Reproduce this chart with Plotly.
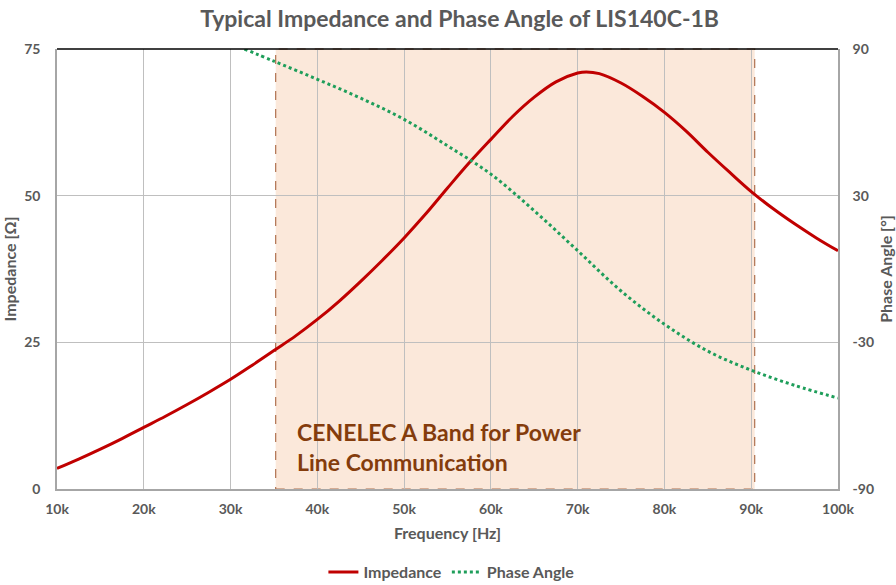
import plotly.graph_objects as go

# ---- data ----
imp_freq_khz = [10, 12.5, 15, 17.5, 20, 22.5, 25, 27.5, 30, 32.5, 35, 37.5, 40, 42.5, 45, 47.5, 50,
                52.5, 55, 57.5, 60, 62.5, 65, 67.5, 70, 71, 72.5, 75, 77.5, 80, 82.5, 85, 87.5, 90,
                92.5, 95, 97.5, 100]
impedance = [3.5, 5.1, 6.8, 8.6, 10.5, 12.4, 14.4, 16.5, 18.7, 21.1, 23.6, 26.1, 28.9, 32.0, 35.4, 39.0, 42.8,
             46.9, 51.3, 55.6, 59.6, 63.5, 66.8, 69.4, 70.9, 71.1, 70.8, 69.2, 66.9, 64.2, 61.0, 57.4, 54.0, 50.7,
             47.8, 45.2, 42.8, 40.6]

ph_freq_khz = [31.6, 35, 40, 45, 50, 55, 60, 65, 70, 75, 80, 85, 90, 95, 100]
phase = [90, 85.0, 77.6, 69.9, 61.2, 50.4, 38.8, 23.8, 7.5, -9.0, -22.6, -33.6, -41.4, -47.6, -52.8]

band_khz = [35.2, 90.4]
x_ticks_khz = [10, 20, 30, 40, 50, 60, 70, 80, 90, 100]
x_tick_text = [f"{v}k" for v in x_ticks_khz]
imp_ticks = [0, 25, 50, 75]
phase_ticks = [-90, -30, 30, 90]
phase_tick_text = ["-90", "-30", "30", "90"]

title_text = "Typical Impedance and Phase Angle of LIS140C-1B"
band_label = "CENELEC A Band for Power<br>Line Communication"

FONT = "Lato"
GREY = "#595959"

fig = go.Figure()
fig.add_trace(go.Scatter(
    x=[f * 1000 for f in imp_freq_khz], y=impedance, name="Impedance",
    mode="lines", line=dict(color="#C00000", width=3, shape="spline", smoothing=1.0),
))
fig.add_trace(go.Scatter(
    x=[f * 1000 for f in ph_freq_khz], y=phase, name="Phase Angle", yaxis="y2",
    mode="lines", line=dict(color="#1E9E5A", width=3, dash="dot", shape="spline", smoothing=1.0),
))

# band rectangle
fig.add_shape(type="rect", xref="x", yref="y domain",
              x0=band_khz[0] * 1000, x1=band_khz[1] * 1000, y0=0, y1=1,
              fillcolor="#FBE8DA", line=dict(color="#B0714F", width=1.2, dash="dash"),
              layer="below")
# top border
fig.add_shape(type="line", xref="x domain", yref="y domain", x0=0, x1=1, y0=1, y1=1,
              line=dict(color="black", width=1.5))

fig.add_annotation(x=band_khz[0] * 1000, y=0.095, xref="x", yref="y domain",
                   xshift=19, text=band_label, showarrow=False, align="left",
                   xanchor="left", yanchor="middle",
                   font=dict(family=FONT, size=23, color="#843C0C", weight="bold"))

fig.update_layout(
    width=896, height=585,
    margin=dict(l=57, r=58, t=49, b=96, autoexpand=False),
    paper_bgcolor="white", plot_bgcolor="white",
    title=dict(text=title_text, x=0.513, xanchor="center", y=0.968, yanchor="middle",
               font=dict(family=FONT, size=23, color=GREY, weight="bold")),
    font=dict(family=FONT, color=GREY),
    xaxis=dict(range=[10000, 100000], tickvals=[v * 1000 for v in x_ticks_khz], ticktext=x_tick_text,
               showgrid=True, gridcolor="#BFBFBF", gridwidth=1, zeroline=False, automargin=False,
               showline=True, linecolor="#A6A6A6", linewidth=1.5,
               ticks="", ticklabelstandoff=6, tickfont=dict(size=14, color=GREY, weight="bold"),
               title=dict(text="Frequency [Hz]", font=dict(size=16, color=GREY, weight="bold"), standoff=12)),
    yaxis=dict(range=[0, 75], tickvals=imp_ticks, showgrid=True, gridcolor="#BFBFBF", gridwidth=1,
               zeroline=False, showline=True, linecolor="#A6A6A6", linewidth=1.5, ticks="",
               ticklabelstandoff=12, automargin=False,
               tickfont=dict(size=14, color=GREY, weight="bold"),
               title=dict(text="Impedance [Ω]", font=dict(size=16, color=GREY, weight="bold"), standoff=8)),
    yaxis2=dict(range=[-90, 90], tickvals=phase_ticks, ticktext=phase_tick_text, overlaying="y", side="right",
                showgrid=False, zeroline=False, showline=True, linecolor="#A6A6A6", linewidth=1.5,
                ticks="", ticklabelstandoff=10, automargin=False,
                tickfont=dict(size=14, color=GREY, weight="bold"),
                title=dict(text="Phase Angle [°]", font=dict(size=16, color=GREY, weight="bold"), standoff=8)),
    legend=dict(orientation="h", x=0.505, xanchor="center", yref="container", y=0.022, yanchor="middle",
                font=dict(size=16, color=GREY, weight="bold")),
    showlegend=True,
)

fig.write_html("out.html", config={"displayModeBar": False},
               post_script="document.body.style.margin='0';")
